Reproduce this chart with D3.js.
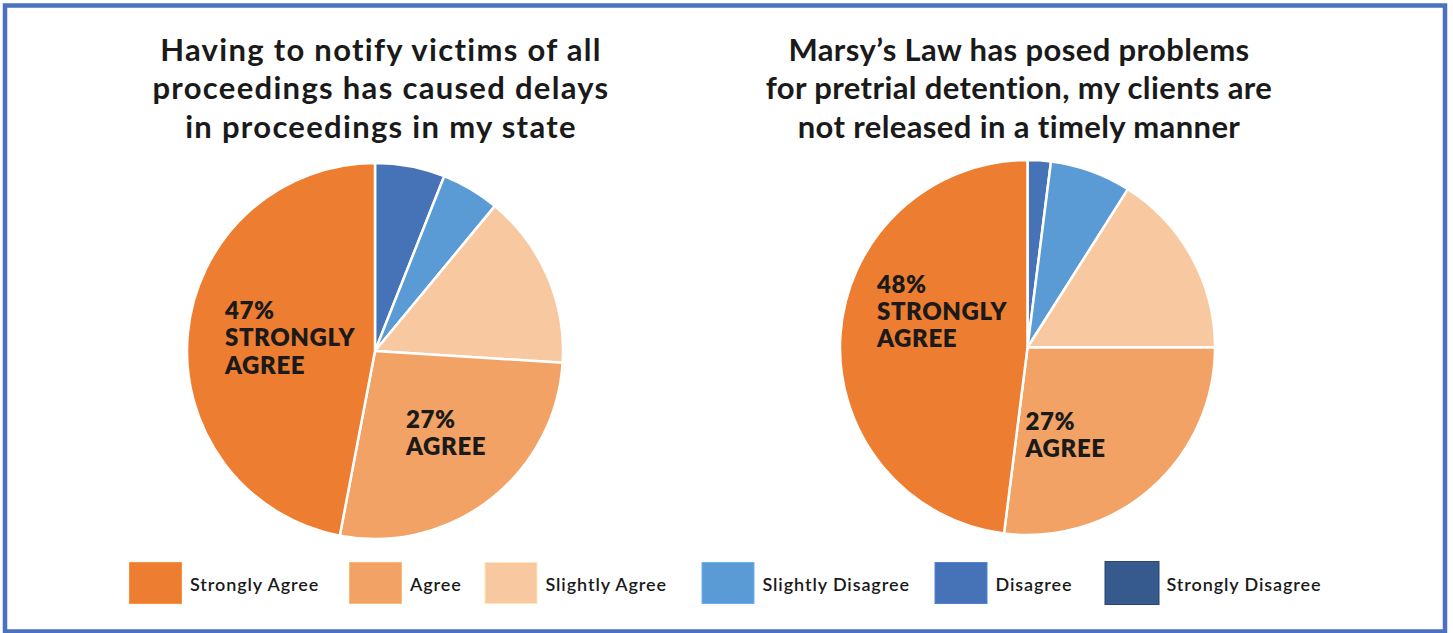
<!DOCTYPE html>
<html>
<head>
<meta charset="utf-8">
<script src="https://cdn.jsdelivr.net/npm/d3@7/dist/d3.min.js"></script>
<style>
  html, body { margin: 0; padding: 0; background: #fff; }
  svg { display: block; }
  text { font-family: Lato, "Noto Sans", sans-serif; fill: #1a1a1a; }
</style>
</head>
<body>
<svg id="chart" width="1453" height="633"></svg>
<script>
// Survey response categories (legend order)
const categories = ["Strongly Agree", "Agree", "Slightly Agree", "Slightly Disagree", "Disagree", "Strongly Disagree"];
const colors = ["#ED7D31", "#F2A265", "#F8C8A0", "#5B9BD5", "#4672B8", "#36598E"];

// Percent of respondents per category
const delaysValues = [47, 27, 15, 5, 6, 0];
const detentionValues = [48, 27, 16, 7, 2, 0];

const delaysTitle = ["Having to notify victims of all", "proceedings has caused delays", "in proceedings in my state"];
const detentionTitle = ["Marsy\u2019s Law has posed problems", "for pretrial detention, my clients are", "not released in a timely manner"];

// In-slice callouts: category index shown for each pie
const calloutCategories = [0, 1];
const calloutNames = ["STRONGLY AGREE", "AGREE"];

// ---- layout ----
const svg = d3.select("#chart");

svg.append("rect")
  .attr("x", 5).attr("y", 5.5).attr("width", 1440).attr("height", 626)
  .attr("fill", "none").attr("stroke", "#4A72BE").attr("stroke-width", 4.5);

const panels = [
  { title: delaysTitle, values: delaysValues, cx: 375, cy: 351, r: 188, titleX: 381, titleWidth: 488,
    callouts: [ { dx: -150, dy: -32 }, { dx: 31, dy: 77 } ] },
  { title: detentionTitle, values: detentionValues, cx: 1027.5, cy: 347.5, r: 187.5, titleX: 1019, titleWidth: 507,
    callouts: [ { dx: -150.5, dy: -55 }, { dx: -2, dy: 82.5 } ] }
];

const pie = d3.pie().sort(null).value(d => d.value);
const arc = d3.arc().innerRadius(0);

// adjust letter spacing so the widest line of a block approaches the target width
function fitSpacing(sel, targetWidth, minLs, maxLs) {
  let maxW = 0, maxN = 1;
  sel.each(function () {
    const w = this.getComputedTextLength();
    if (w > maxW) { maxW = w; maxN = this.textContent.length; }
  });
  const ls = Math.min(maxLs, Math.max(minLs, (targetWidth - maxW) / maxN));
  sel.attr("letter-spacing", ls);
  return ls;
}

panels.forEach(p => {
  // title
  const tl = svg.append("g").selectAll("text").data(p.title).join("text")
    .attr("x", p.titleX)
    .attr("y", (d, i) => 61 + i * 38.3)
    .attr("text-anchor", "middle")
    .attr("font-weight", 700)
    .attr("font-size", 31)
    .text(d => d);
  fitSpacing(tl, p.titleWidth, -0.5, 1.3);

  // slices drawn clockwise from 12 o'clock, starting with the last category
  const rows = categories.map((c, i) => ({ cat: c, value: p.values[i], color: colors[i] })).reverse();
  const arcs = pie(rows);
  const g = svg.append("g").attr("transform", `translate(${p.cx},${p.cy})`);
  arc.outerRadius(p.r);
  g.selectAll("path").data(arcs.filter(a => a.data.value > 0)).join("path")
    .attr("d", arc)
    .attr("fill", d => d.data.color)
    .attr("stroke", "#fff")
    .attr("stroke-width", 2.5)
    .attr("stroke-linejoin", "round");

  // callouts
  calloutCategories.forEach((ci, k) => {
    const c = p.callouts[k];
    const lines = [p.values[ci] + "%"].concat(calloutNames[k].split(" "));
    g.selectAll(null).data(lines).join("text")
      .attr("x", c.dx)
      .attr("y", (d, i) => c.dy + i * 27.3)
      .attr("font-weight", 800)
      .attr("font-size", 24)
      .attr("letter-spacing", 0.6)
      .attr("fill", "#222")
      .text(d => d);
  });
});

// legend
const legendX = [129.5, 349.5, 485, 702, 935, 1105];
const lg = svg.append("g");
const legendTexts = [];
categories.forEach((c, i) => {
  const last = i === categories.length - 1;
  lg.append("rect")
    .attr("x", legendX[i]).attr("y", last ? 561.5 : 562.5)
    .attr("width", last ? 54 : 52).attr("height", last ? 43 : 41)
    .attr("fill", colors[i])
    .attr("stroke", last ? "#2B4770" : d3.color(colors[i]).brighter(0.4))
    .attr("stroke-width", 1);
  legendTexts.push(lg.append("text")
    .attr("x", legendX[i] + (last ? 61.5 : 60.5))
    .attr("y", 590.5)
    .attr("font-size", 18)
    .attr("font-weight", 600)
    .text(c).node());
});
// common spacing sized on the longest legend entry
fitSpacing(d3.selectAll(legendTexts), 155, 0, 2);
</script>
</body>
</html>
